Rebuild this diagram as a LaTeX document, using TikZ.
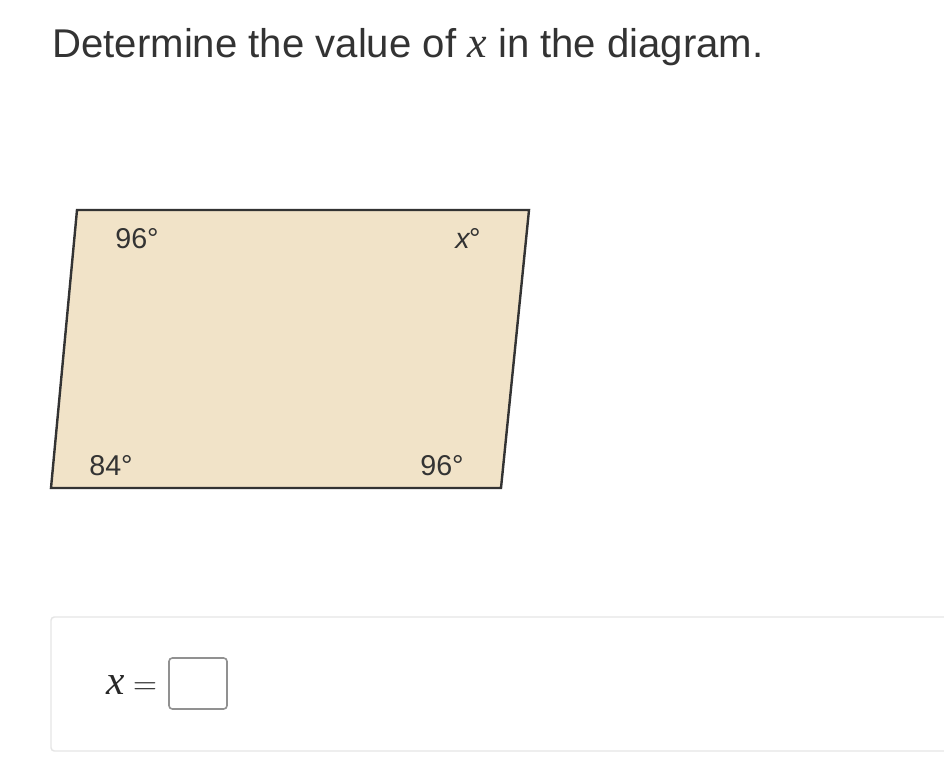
\documentclass[tikz,border=0pt]{standalone}
\usepackage{fontspec}
\setmainfont{Liberation Sans}
\newfontfamily\varfont{Liberation Serif}

\begin{document}
\tikzset{every picture/.style={line width=0.75pt}}
\tikzset{
  anglelabel/.style={anchor=base, inner sep=0.75pt, font=\fontsize{21.5}{26}\selectfont, text={rgb, 255:red, 51; green, 51; blue, 51 }},
  answertext/.style={anchor=base, inner sep=0pt, font=\fontsize{31}{36}\selectfont, text={rgb, 255:red, 40; green, 40; blue, 40 }}
}

\begin{tikzpicture}[x=0.75pt,y=0.75pt,yscale=-1,xscale=1]
    \useasboundingbox (0,0) rectangle (944,778);

    % Text Node
    \draw (52,57) node [anchor=base west][inner sep=0pt, font=\fontsize{30.1}{36}\selectfont, text={rgb, 255:red, 51; green, 51; blue, 51 }] (question) {Determine the value of {\varfont\itshape\fontsize{33}{36}\selectfont x} in the diagram.};

    %Shape: Parallelogram [id:quad]
    \draw [draw={rgb, 255:red, 51; green, 51; blue, 51 }, fill={rgb, 255:red, 241; green, 227; blue, 200 }, fill opacity=1, line width=1.8] (77,210) -- (529,210) -- (501,488) -- (51,488) -- cycle ;

    % Text Node
    \draw (137,248) node [anglelabel] (angTL) {96°};
    % Text Node
    \draw (468,248) node [anglelabel] (angTR) {\textit{x}\kern-1pt°};
    % Text Node
    \draw (111,475) node [anglelabel] (angBL) {84°};
    % Text Node
    \draw (442,475) node [anglelabel] (angBR) {96°};

    %Rounded Rect [id:answerpanel]
    \draw [draw={rgb, 255:red, 229; green, 229; blue, 229 }, line width=1.1, rounded corners=2.5] (51,617) rectangle (960,751) ;
    %Rounded Rect [id:inputbox]
    \draw [draw={rgb, 255:red, 145; green, 145; blue, 145 }, line width=1.2, rounded corners=2.5] (169,658) rectangle (227,709) ;

    % Text Node
    \draw (116,694) node [answertext] (xvar) {\varfont\itshape x};
    % Text Node
    \draw (145,694) node [answertext] (eqsign) {$=$};

\end{tikzpicture}
\end{document}
